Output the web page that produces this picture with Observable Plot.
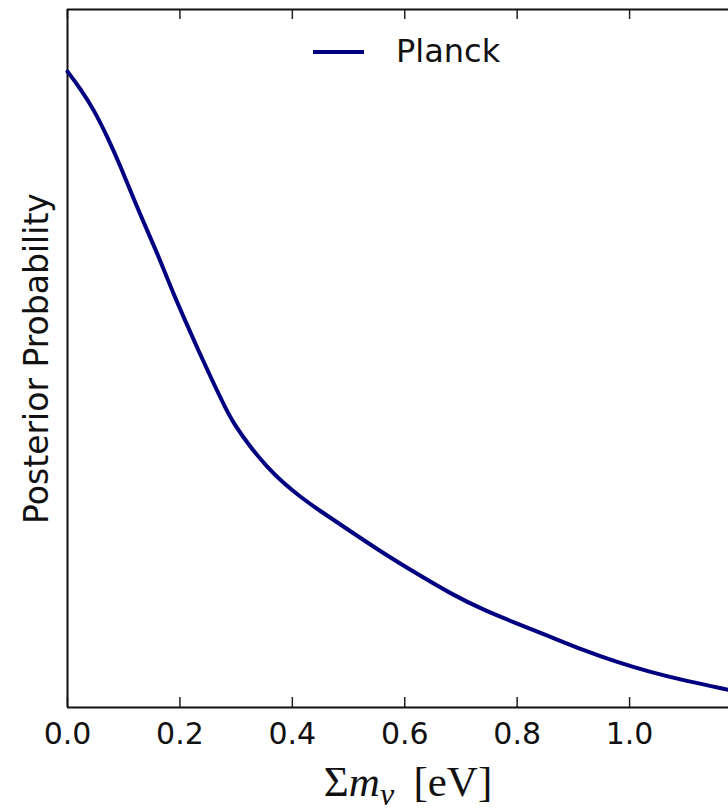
<!DOCTYPE html>
<html>
<head>
<meta charset="utf-8">
<script src="https://cdn.jsdelivr.net/npm/d3@7"></script>
<script src="https://cdn.jsdelivr.net/npm/@observablehq/plot@0.6"></script>
<style>
  body { margin: 0; background: #fff; }
  #wrap { position: relative; width: 728px; height: 810px; overflow: hidden; }
  #legend { position: absolute; left: 313px; top: 33px; display: flex; align-items: center;
            font-family: "DejaVu Sans", sans-serif; font-size: 32px; line-height: 37px; color: #111; }
  #legend .sw { display: inline-block; width: 51px; height: 4px; background: #000080; margin-right: 32px; }
</style>
</head>
<body>
<div id="wrap"></div>
<script>
// ---- data ----
const sumMnu = [0, 0.0231, 0.0468, 0.0706, 0.0943, 0.118, 0.1418, 0.1655, 0.1863, 0.210, 0.2336,
  0.2575, 0.281, 0.296, 0.3256, 0.3553, 0.385, 0.4146, 0.4443, 0.5036, 0.5628, 0.6222, 0.6815,
  0.7408, 0.800, 0.8594, 0.9187, 0.978, 1.0374, 1.0966, 1.176];
const posterior = [1.0, 0.973, 0.940, 0.898, 0.851, 0.799, 0.750, 0.702, 0.655, 0.607, 0.560,
  0.514, 0.471, 0.446, 0.409, 0.378, 0.352, 0.331, 0.312, 0.277, 0.242, 0.210, 0.179,
  0.153, 0.132, 0.111, 0.0896, 0.0712, 0.0555, 0.0425, 0.0278];
const xTicks = [0.0, 0.2, 0.4, 0.6, 0.8, 1.0];
const seriesName = "Planck";
const yLabel = "Posterior Probability";
const xLabelPlain = "Σmν [eV]";

// ---- layout ----
const W = 728, H = 810;
const mL = 67, mR = 0, mT = 9, mB = 103;
const xMax = 1.176;
const yMax = 1.0975;
const tickLen = 10 * yMax / (H - mT - mB); // 10px expressed in y units

const rows = sumMnu.map((x, i) => ({x, y: posterior[i]}));

const plot = Plot.plot({
  width: W, height: H,
  marginLeft: mL, marginRight: mR, marginTop: mT, marginBottom: mB,
  x: {domain: [0, xMax]},
  y: {domain: [0, yMax], axis: null},
  style: {fontFamily: "DejaVu Sans, sans-serif", color: "#111", background: "#fff", overflow: "visible"},
  marks: [
    // tick marks (inward) on bottom and top
    Plot.ruleX(xTicks, {x: d => d, y1: 0, y2: tickLen, stroke: "#222", strokeWidth: 1.5}),
    Plot.ruleX(xTicks, {x: d => d, y1: yMax, y2: yMax - tickLen, stroke: "#222", strokeWidth: 1.5}),
    // frame (left, bottom, top)
    Plot.ruleX([0], {stroke: "#111", strokeWidth: 2}),
    Plot.ruleY([0, yMax], {stroke: "#111", strokeWidth: 2}),
    // tick labels
    Plot.axisX({anchor: "bottom", ticks: xTicks, tickSize: 0, tickPadding: 15,
      tickFormat: d3.format(".1f"), fontSize: 30, label: null}),
    // curve
    Plot.line(rows, {x: "x", y: "y", stroke: "#000080", strokeWidth: 4, curve: "basis"}),
    // y label
    Plot.text([yLabel], {text: d => d, frameAnchor: "left", textAnchor: "middle", rotate: -90, dx: -30,
      fontSize: 33, fill: "#111"}),
    // x label (rich text applied afterwards)
    Plot.text([xLabelPlain], {text: d => d, frameAnchor: "bottom", textAnchor: "middle", dx: 10, dy: 88,
      lineAnchor: "bottom", fontSize: 43, fill: "#111"})
  ]
});

// rich x label: Σ m_ν [eV]
d3.select(plot).selectAll("text").filter(function() { return this.textContent === xLabelPlain; })
  .each(function() {
    const t = d3.select(this);
    t.text(null).attr("font-family", "Liberation Serif, serif");
    t.append("tspan").text("Σ");
    t.append("tspan").attr("font-style", "italic").text("m");
    t.append("tspan").attr("font-style", "italic").attr("font-size", 32).attr("dy", 9).text("ν");
    t.append("tspan").attr("dy", -9).attr("xml:space", "preserve").text("\u2009 [eV]");
  });

const wrap = document.getElementById("wrap");
wrap.appendChild(plot);
const legend = document.createElement("div");
legend.id = "legend";
legend.innerHTML = '<span class="sw"></span><span></span>';
legend.lastChild.textContent = seriesName;
wrap.appendChild(legend);
</script>
</body>
</html>
